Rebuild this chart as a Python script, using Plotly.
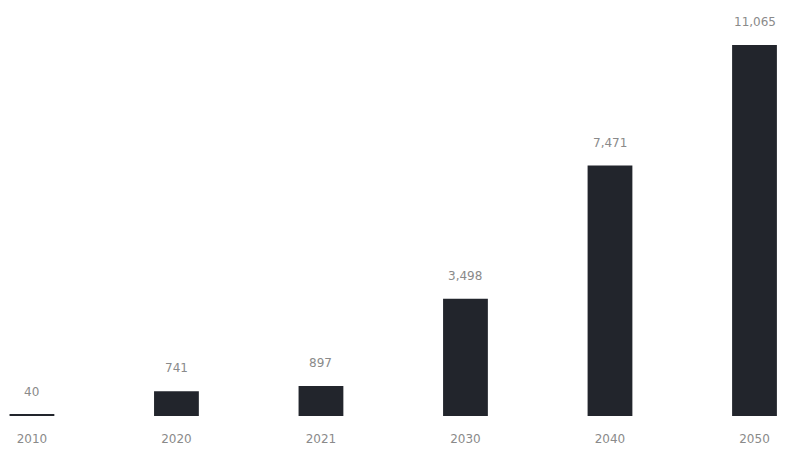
import plotly.graph_objects as go

years = ["2010", "2020", "2021", "2030", "2040", "2050"]
values = [40, 741, 897, 3498, 7471, 11065]
labels = ["40", "741", "897", "3,498", "7,471", "11,065"]

bar_color = "#22252c"
text_color = "#8a8a8a"

fig = go.Figure()
fig.add_trace(go.Bar(
    x=years, y=values,
    marker=dict(color=bar_color, line=dict(width=0)),
    width=0.31,
    hoverinfo="skip",
))
for i, (v, lab) in enumerate(zip(values, labels)):
    fig.add_annotation(x=i, y=v, text=lab, showarrow=False, yanchor="bottom",
                       yshift=14, font=dict(family="DejaVu Sans", size=12, color=text_color))

fig.update_layout(
    width=786, height=458,
    margin=dict(l=0, r=0, t=0, b=42),
    paper_bgcolor="white", plot_bgcolor="white",
    showlegend=False,
    xaxis=dict(type="category", range=[-0.221, 5.218], showgrid=False, zeroline=False,
               showline=False, ticks="outside", ticklen=12, tickcolor="white",
               tickfont=dict(family="DejaVu Sans", size=12, color=text_color)),
    yaxis=dict(range=[0, 12407], visible=False),
)
fig.write_html("out.html")
